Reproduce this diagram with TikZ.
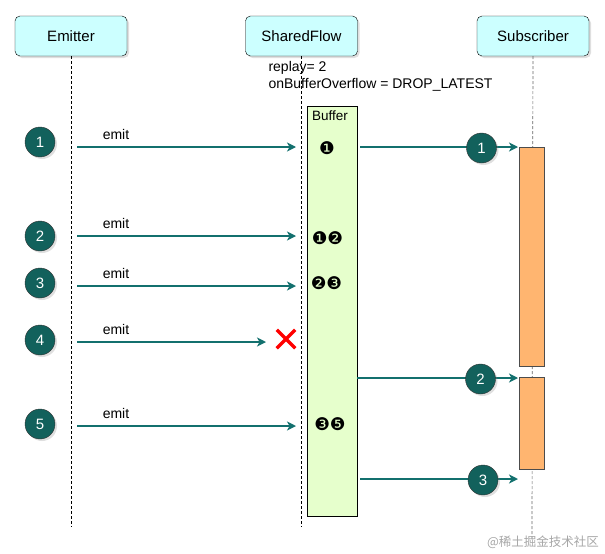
\documentclass[tikz,border=0pt]{standalone}
\usepackage{fontspec}
\setmainfont{Liberation Sans}
\newfontfamily\dingfont{DejaVu Sans}
\newfontfamily\cjkfont{Noto Sans CJK SC}
\usetikzlibrary{arrows.meta,shadows,shapes.misc}
\definecolor{headfill}{HTML}{CCFFFF}
\definecolor{stepteal}{HTML}{12615C}
\definecolor{msgteal}{HTML}{13706E}
\definecolor{bufferfill}{HTML}{E6FFCC}
\definecolor{barfill}{HTML}{FFB570}
\begin{document}
\begin{tikzpicture}[x=1pt, y=-1pt, font=\fontsize{15}{18}\selectfont,
  head/.style={draw, rounded corners=5pt, fill=headfill, minimum width=112pt, minimum height=40pt,
    drop shadow={opacity=0.25, shadow xshift=2pt, shadow yshift=-2pt}},
  num/.style={circle, draw=black!80, fill=stepteal, text=white, minimum size=30pt, inner sep=0pt,
    font=\fontsize{15}{18}\selectfont,
    drop shadow={opacity=0.25, shadow xshift=2pt, shadow yshift=-2pt}},
  msg/.style={draw=msgteal, line width=1.4pt, -{Stealth[length=9pt, width=9pt, inset=2.5pt]}},
  life/.style={dash pattern=on 3pt off 2pt, line width=0.7pt},
  label/.style={font=\fontsize{14}{16}\selectfont},
  slot/.style={font=\dingfont\fontsize{17.5}{20}\selectfont}]
  \useasboundingbox (0,0) rectangle (605,554);
  % Participants
  \node[head] (emitter) at (71,36) {Emitter};
  \node[head] (shared) at (301.5,36) {SharedFlow};
  \node[head] (subscriber) at (533,36) {Subscriber};
  % Lifelines
  \coordinate (emitterEnd) at (71,527);
  \coordinate (sharedEnd) at (301.5,527);
  \coordinate (subscriberEnd) at (532,540);
  \draw[life] (emitter) -- (emitterEnd);
  \draw[life] (shared) -- (sharedEnd);
  \draw[life, black!60] (subscriber) -- (subscriberEnd);
  % Configuration of the flow
  \node[label, anchor=west] (replay) at (265,68) {replay= 2};
  \node[label, anchor=west] (overflow) at (265,85) {onBufferOverflow = DROP\_LATEST};
  % Buffer of the flow
  \node[draw, fill=bufferfill, minimum width=50pt, minimum height=410pt, inner sep=0pt,
    anchor=north west] (buffer) at (306.5,106) {};
  \node[font=\fontsize{13.5}{15}\selectfont] (bufferTitle) at (330,116) {Buffer};
  \node[slot] (slot1) at (327,148) {❶};
  \node[slot] (slot2) at (327.5,238) {❶❷};
  \node[slot] (slot3) at (326.5,283.5) {❷❸};
  \node[slot] (slot4) at (330,424) {❸❺};
  % Subscriber activations
  \node[draw=black!70, fill=barfill, minimum width=25pt, minimum height=219pt, inner sep=0pt,
    anchor=north west] (bar1) at (519,147) {};
  \node[draw=black!70, fill=barfill, minimum width=25pt, minimum height=92pt, inner sep=0pt,
    anchor=north west] (bar2) at (519,377) {};
  % Emitted values
  \foreach \n/\cy/\ay/\ex in {1/142/147/296, 2/236/236/296, 3/283/286/296, 4/340/342/266, 5/424/426/296} {
    \node[num] (e\n) at (40,\cy) {\n};
    \coordinate (src\n) at (77,\ay);
    \coordinate (dst\n) at (\ex,\ay);
    \draw[msg] (src\n) -- (dst\n);
    \node[label] (emit\n) at (116,\ay-13) {emit};
  }
  % Dropped value
  \node[cross out, draw=red, line width=3.5pt, minimum size=15pt, inner sep=0pt] (drop) at (286,339) {};
  % Collected values
  \foreach \n/\ay/\sx/\cx in {1/147/360/481.5, 2/378/357/480.5, 3/479/360/483} {
    \coordinate (out\n) at (\sx,\ay);
    \coordinate (in\n) at (518,\ay);
    \draw[msg] (out\n) -- (in\n);
    \node[num] (c\n) at (\cx,\ay+1) {\n};
  }
  % Watermark
  \node[text=black!35, font=\cjkfont\fontsize{12.5}{14}\selectfont] (mark) at (543,542) {@稀土掘金技术社区};
\end{tikzpicture}
\end{document}
